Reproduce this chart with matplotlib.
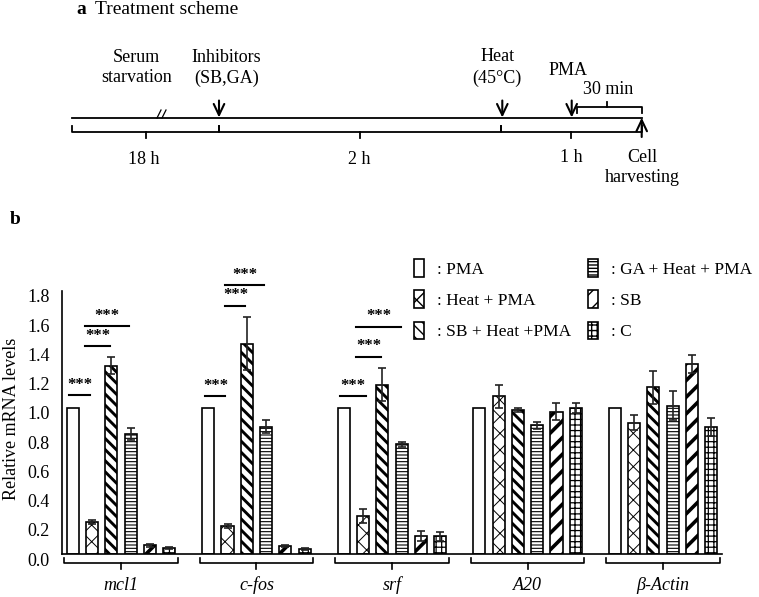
import matplotlib
matplotlib.use('Agg')
import matplotlib.pyplot as plt
from matplotlib.transforms import ScaledTranslation
import numpy as np

plt.rcParams['font.family'] = ['Liberation Serif', 'DejaVu Serif']

# ---------------- data ----------------
genes = ['mcl1', 'c-fos', 'srf', 'A20', 'β-Actin']
series_labels = [': PMA', ': Heat + PMA', ': SB + Heat +PMA',
                 ': GA + Heat + PMA', ': SB', ': C']

vals_pma = [1.0, 1.0, 1.0, 1.0, 1.0]
err_pma = [0.0, 0.0, 0.0, 0.0, 0.0]
vals_heat = [0.22, 0.19, 0.26, 1.08, 0.90]
err_heat = [0.015, 0.015, 0.05, 0.08, 0.05]
vals_sbheat = [1.29, 1.44, 1.16, 0.985, 1.14]
err_sbheat = [0.06, 0.18, 0.11, 0.015, 0.115]
vals_ga = [0.82, 0.87, 0.75, 0.88, 1.015]
err_ga = [0.04, 0.045, 0.015, 0.025, 0.10]
vals_sb = [0.06, 0.055, 0.125, 0.975, 1.30]
err_sb = [0.01, 0.005, 0.035, 0.06, 0.06]
vals_c = [0.04, 0.034, 0.12, 1.0, 0.87]
err_c = [0.008, 0.005, 0.03, 0.035, 0.06]

yticks = [0.0, 0.2, 0.4, 0.6, 0.8, 1.0, 1.2, 1.4, 1.6, 1.8]

# significance bars: group index, x offsets (relative to group centre), level
sig_group = [0, 0, 0, 1, 1, 1, 2, 2, 2]
sig_x0 = [-0.384, -0.266, -0.266, -0.377, -0.229, -0.229, -0.384, -0.266, -0.266]
sig_x1 = [-0.229, -0.081, 0.059, -0.229, -0.081, 0.059, -0.192, -0.081, 0.066]
sig_y = [1.085, 1.425, 1.562, 1.082, 1.70, 1.838, 1.08, 1.351, 1.557]

# ---------------- figure ----------------
W, H = 759, 597
fig = plt.figure(figsize=(W / 100, H / 100), dpi=100)

# panel a: treatment scheme drawn in pixel coordinates
ax0 = fig.add_axes([0, 0, 1, 1])
ax0.set_xlim(0, W)
ax0.set_ylim(H, 0)
ax0.axis('off')

fs = 13
lw = 1.3
ax0.text(76, 9, 'a', fontsize=14, fontweight='bold', va='center', ha='left')
ax0.text(95, 9, 'Treatment scheme', fontsize=14, va='center', ha='left')

# main timeline
ax0.plot([72, 642], [117.7, 117.7], color='k', lw=lw)
# break mark
ax0.plot([157, 161], [118, 110], color='k', lw=0.9)
ax0.plot([162, 166], [118, 110], color='k', lw=0.9)

# brackets under the timeline
segs = [(72, 219), (219, 500.7), (500.7, 641.7)]
yb = 131.7
for a, b in segs:
    ax0.plot([a, a, b, b], [125.5, yb, yb, 125.5], color='k', lw=lw)
    c = (a + b) / 2
    ax0.plot([c, c], [yb, 137.5], color='k', lw=lw)

# down arrows
for x in [219, 502.3, 571.7]:
    ax0.annotate('', xy=(x, 117.5), xytext=(x, 100.5),
                 arrowprops=dict(arrowstyle='->,head_length=0.8,head_width=0.38',
                                 lw=1.5, color='k', shrinkA=0, shrinkB=0))
# up arrow (cell harvesting)
ax0.annotate('', xy=(641.7, 117.7), xytext=(641.7, 137),
             arrowprops=dict(arrowstyle='->,head_length=0.8,head_width=0.38',
                             lw=1.5, color='k', shrinkA=0, shrinkB=0))

# 30 min bracket
ax0.plot([576.7, 576.7, 641.7, 641.7], [113, 106.7, 106.7, 113], color='k', lw=lw)
ax0.plot([607.3, 607.3], [106.7, 101.7], color='k', lw=lw)

txts = [(136.7, 57.7, 'Serum'), (136.7, 77.3, 'starvation'),
        (226.7, 57.7, 'Inhibitors'), (226.7, 78.3, '(SB,GA)'),
        (497.3, 56.7, 'Heat'), (497.3, 78.5, '(45°C)'),
        (567.7, 70.7, 'PMA'), (608.3, 90, '30 min'),
        (144, 160, '18 h'), (359.3, 160, '2 h'), (571.7, 157, '1 h'),
        (642.5, 157, 'Cell'), (642.5, 177.3, 'harvesting')]
for x, y, s in txts:
    ax0.text(x, y, s, fontsize=fs, ha='center', va='center')

ax0.text(10, 220, 'b', fontsize=14, fontweight='bold', va='center', ha='left')

# panel b: bar chart
L, R, B, T = 62, 722, 554, 291
ax = fig.add_axes([L / W, (H - B) / H, (R - L) / W, (B - T) / H])

x = np.arange(len(genes))
pitch = 0.1425
bw = 0.089

vals = [vals_pma, vals_heat, vals_sbheat, vals_ga, vals_sb, vals_c]
errs = [err_pma, err_heat, err_sbheat, err_ga, err_sb, err_c]
hatches = [None, 'xx', '\\\\\\', '-----', '//', '+++']
hlw = [1.0, 0.7, 2.1, 0.8, 2.6, 0.9]

handles = []
for i, (v, e) in enumerate(zip(vals, errs)):
    pos = x + (i - 2.5) * pitch
    with plt.rc_context({'hatch.linewidth': hlw[i]}):
        bars = ax.bar(pos, v, width=bw, color='white', edgecolor='black',
                      linewidth=1.2, hatch=hatches[i], zorder=2,
                      label=series_labels[i])
    for p in bars.patches:
        if hasattr(p, 'set_hatch_linewidth'):
            p.set_hatch_linewidth(hlw[i])
    if any(ee > 0 for ee in e):
        ax.errorbar(pos, v, yerr=e, fmt='none', ecolor='#222222',
                    elinewidth=1.2, capsize=3, capthick=1.2, zorder=3)
    handles.append(bars)

ax.set_xlim(-0.435, 4.435)
ax.set_ylim(0, 1.8)
ax.set_yticks(yticks)
ax.set_yticklabels([f'{t:.1f}' for t in yticks], fontsize=fs)
ax.tick_params(axis='y', length=0, pad=9)
ax.tick_params(axis='x', length=0, labelbottom=False)
ax.set_xticks([])
off = ScaledTranslation(0, -5 / 100, fig.dpi_scale_trans)
for lbl in ax.get_yticklabels():
    lbl.set_transform(lbl.get_transform() + off)
for s in ['top', 'right']:
    ax.spines[s].set_visible(False)
for s in ['left', 'bottom']:
    ax.spines[s].set_linewidth(1.2)
ax.set_ylabel('Relative mRNA levels', fontsize=fs)
ax.yaxis.set_label_coords(-0.064, 0.513)

# group brackets and labels
tr = ax.get_xaxis_transform()
for gi, g in enumerate(genes):
    a, b = gi - 0.42, gi + 0.42
    ax.plot([a, a, b, b], [-0.015, -0.034, -0.034, -0.015], color='k',
            lw=1.2, transform=tr, clip_on=False)
    ax.plot([gi, gi], [-0.034, -0.057], color='k', lw=1.2, transform=tr,
            clip_on=False)
    ax.text(gi, -0.12, g, fontsize=fs, style='italic', ha='center',
            va='center', transform=tr)

# significance markers
for g, x0, x1, y in zip(sig_group, sig_x0, sig_x1, sig_y):
    ax.plot([g + x0, g + x1], [y, y], color='k', lw=1.5, clip_on=False)
    ax.text(g + (x0 + x1) / 2, y + 0.015, '***', fontsize=12,
            fontweight='bold', ha='center', va='bottom', clip_on=False)

leg = fig.legend(handles=handles, labels=series_labels, ncol=2,
                 loc='upper left', bbox_to_anchor=(414 / W, 1 - 259 / H),
                 frameon=False, fontsize=12.5, handlelength=0.6,
                 handleheight=1.2, handletextpad=0.75, labelspacing=0.72,
                 columnspacing=0.95, borderpad=0, borderaxespad=0)

fig.savefig('out.png', dpi=100)
